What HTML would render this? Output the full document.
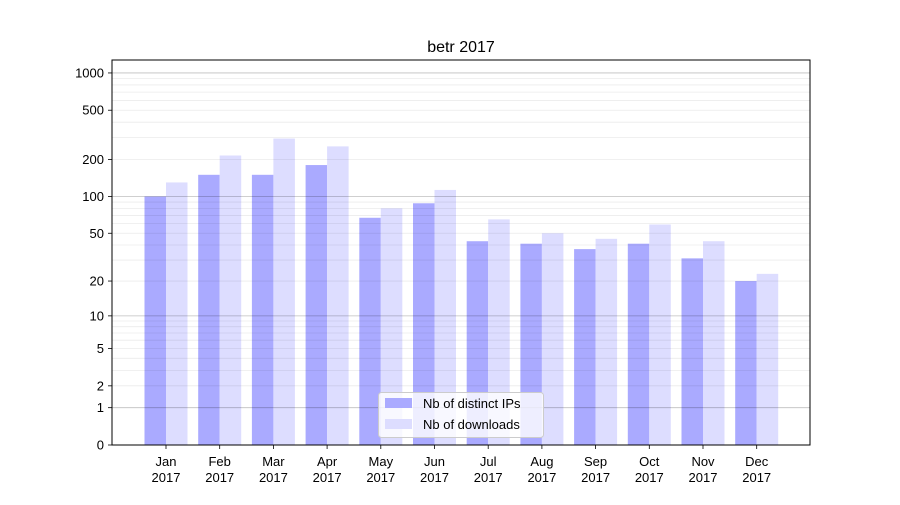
<!DOCTYPE html>
<html><head><meta charset="utf-8"><style>
body{margin:0;background:#fff;}
svg text{font-family:"Liberation Sans","DejaVu Sans",sans-serif;}
</style></head><body>
<svg id="c" width="900" height="500" xmlns="http://www.w3.org/2000/svg"></svg>
<script>
const s=document.getElementById('c');
let h='<rect width="900" height="500" fill="#fff"/>';
const Y=v=>445-124*Math.log10(v+1);
const ips=[100,150,150,180,67,88,43,41,37,41,31,20];
const dl=[130,215,295,255,80,113,65,50,45,59,43,23];
const m=['Jan','Feb','Mar','Apr','May','Jun','Jul','Aug','Sep','Oct','Nov','Dec'];
for(let i=0;i<12;i++){
 const cx=166+i*53.7;
 h+=`<rect x="${cx-21.5}" y="${Y(ips[i])}" width="21.5" height="${445-Y(ips[i])}" fill="#aaaaff"/>`;
 h+=`<rect x="${cx}" y="${Y(dl[i])}" width="21.5" height="${445-Y(dl[i])}" fill="#ddddff"/>`;
 h+=`<line x1="${cx}" x2="${cx}" y1="445" y2="449" stroke="#000" stroke-width="0.8"/>`;
 h+=`<text x="${cx}" y="466" font-size="13" text-anchor="middle">${m[i]}</text>`;
 h+=`<text x="${cx}" y="482" font-size="13" text-anchor="middle">2017</text>`;
}
[2,3,4,5,6,7,8,9,20,30,40,50,60,70,80,90,200,300,400,500,600,700,800,900].forEach(v=>{
 h+=`<line x1="112" x2="810" y1="${Y(v)}" y2="${Y(v)}" stroke="#000" stroke-opacity="0.08" stroke-width="0.8"/>`;});
[1,10,100,1000].forEach(v=>{
 h+=`<line x1="112" x2="810" y1="${Y(v)}" y2="${Y(v)}" stroke="#000" stroke-opacity="0.25" stroke-width="0.8"/>`;});
[0,1,2,5,10,20,50,100,200,500,1000].forEach(v=>{
 const y=Y(v);
 h+=`<line x1="108" x2="112" y1="${y}" y2="${y}" stroke="#000" stroke-width="0.8"/>`;
 h+=`<text x="104" y="${y+4.5}" font-size="13" text-anchor="end">${v}</text>`;});
h+='<rect x="112" y="60" width="698" height="385" fill="none" stroke="#000" stroke-width="1"/>';
h+='<text x="461" y="52" font-size="16" text-anchor="middle">betr 2017</text>';
h+='<rect x="378.5" y="392.5" width="165" height="45" rx="3" fill="#fff" fill-opacity="0.8" stroke="#ccc"/>';
h+='<rect x="385" y="398" width="27" height="10" fill="#aaaaff"/>';
h+='<text x="423" y="408" font-size="13">Nb of distinct IPs</text>';
h+='<rect x="385" y="419" width="27" height="10" fill="#ddddff"/>';
h+='<text x="423" y="429" font-size="13">Nb of downloads</text>';
s.innerHTML=h;
</script>
</body></html>
